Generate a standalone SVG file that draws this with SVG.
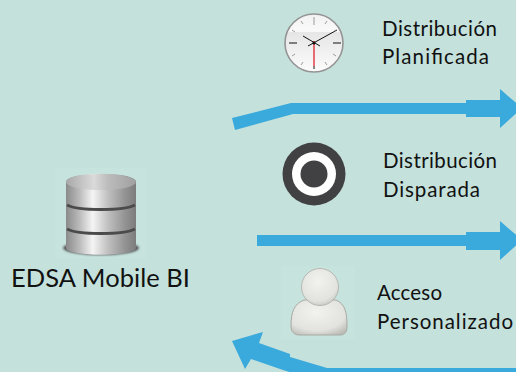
<svg xmlns="http://www.w3.org/2000/svg" width="516" height="372" viewBox="0 0 516 372">
<style>
.t{font-family:"Lato","Open Sans","Liberation Sans",sans-serif;font-size:20.5px;fill:#111}
.a{fill:#3aa9dc}
.k{stroke:#777;stroke-width:.7}
</style>
<defs>
<linearGradient id="cyl" x1="0" x2="1" y1="0" y2="0">
<stop offset="0" stop-color="#8a8a8a"/><stop offset=".2" stop-color="#bdbdbd"/><stop offset=".38" stop-color="#f4f4f4"/><stop offset=".6" stop-color="#c0c0c0"/><stop offset=".85" stop-color="#929292"/><stop offset="1" stop-color="#7c7c7c"/>
</linearGradient>
<linearGradient id="top" x1="0" x2="1" y1="0" y2="0">
<stop offset="0" stop-color="#a8a8a8"/><stop offset=".4" stop-color="#dadada"/><stop offset=".6" stop-color="#bcbcbc"/><stop offset="1" stop-color="#a0a0a0"/>
</linearGradient>
<linearGradient id="face" x1="0" x2="0" y1="0" y2="1">
<stop offset="0" stop-color="#f2f2f2"/><stop offset=".3" stop-color="#fafafa"/><stop offset=".32" stop-color="#e6e6e6"/><stop offset="1" stop-color="#fcfcfc"/>
</linearGradient>
<radialGradient id="usr" cx=".45" cy=".35" r=".75">
<stop offset="0" stop-color="#f2f2ef"/><stop offset=".7" stop-color="#e2e2df"/><stop offset="1" stop-color="#bcbcb6"/>
</radialGradient>
<filter id="soft"><feGaussianBlur stdDeviation="1"/></filter>
<filter id="soft2"><feGaussianBlur stdDeviation=".6"/></filter>
</defs>
<rect width="516" height="372" fill="#c4e1dc"/>
<g id="connectors">
<polygon class="a" points="232,118 291,103 466,103 466,100 500,100 500,89 522,108 500,128 500,117 466,117 466,114 293,114 235,130"/>
<polygon class="a" points="257,235 466,235 466,232 500,232 500,221 522,240 500,260 500,250 466,250 466,246 257,246"/>
<polygon class="a" points="516,368 327,368 290,357 290,354 259,343 263,332 232,341 245,369 251,359 283,370 302,376 516,376"/>
</g>
<g id="db">
<rect x="55" y="168" width="92" height="90" fill="#c7e3de"/>
<ellipse cx="101" cy="248" rx="38" ry="7" fill="#555" filter="url(#soft)"/>
<g filter="url(#soft2)">
<path d="M66,182 C66,171 136,171 136,182 V248 C136,257 66,257 66,248 Z" fill="url(#cyl)"/>
<ellipse cx="101" cy="182" rx="35" ry="8" fill="url(#top)"/>
<path d="M67,205 C78,211 124,211 135,205" fill="none" stroke="#4c4c4c" stroke-width="3"/>
<path d="M67,229 C78,235 124,235 135,229" fill="none" stroke="#4c4c4c" stroke-width="3"/>
</g>
<text x="11" y="287" style="font-family:'Lato','Open Sans','Liberation Sans',sans-serif;font-size:25.5px;fill:#111" textLength="179" lengthAdjust="spacing">EDSA Mobile BI</text>
</g>
<g id="clock">
<circle cx="314" cy="43" r="29" fill="url(#face)" stroke="#949494" stroke-width="1.6"/>
<g stroke="#111" stroke-width="1">
<line x1="289" y1="43" x2="297" y2="43"/><line x1="333" y1="43" x2="341" y2="43"/>
<line x1="303" y1="36" x2="320" y2="46"/><line x1="308" y1="46" x2="337" y2="30"/>
<line x1="314" y1="66" x2="314" y2="69"/>
</g>
<g class="k">
<line x1="314" y1="17" x2="314" y2="25"/><line x1="327" y1="21" x2="325" y2="24"/><line x1="336" y1="30" x2="333" y2="32"/><line x1="336" y1="56" x2="333" y2="54"/><line x1="327" y1="65" x2="325" y2="62"/><line x1="301" y1="65" x2="303" y2="62"/><line x1="292" y1="56" x2="295" y2="54"/><line x1="292" y1="30" x2="295" y2="32"/><line x1="301" y1="21" x2="303" y2="24"/>
</g>
<line x1="314" y1="41" x2="314" y2="66" stroke="#e0101c" stroke-width="1.2"/>
<circle cx="314" cy="43" r="1.6" fill="#111"/>
<text class="t" x="382" y="36" textLength="115" lengthAdjust="spacing">Distribución</text>
<text class="t" x="382" y="64" textLength="107" lengthAdjust="spacing">Planificada</text>
</g>
<g id="target">
<circle cx="314" cy="174" r="31.5" fill="#414042"/>
<circle cx="314" cy="174" r="22" fill="#fff"/>
<circle cx="314" cy="174" r="13.5" fill="#414042"/>
<text class="t" x="383" y="168" textLength="114" lengthAdjust="spacing">Distribución</text>
<text class="t" x="383" y="197" textLength="97" lengthAdjust="spacing">Disparada</text>
</g>
<g id="user">
<rect x="281" y="266" width="74" height="74" fill="#c7e3de"/>
<path d="M304,300 C294,304 291,312 291,326 C291,332 294,335 300,335 H340 C345,335 347,332 347,326 C347,312 345,304 336,300 Z" fill="url(#usr)" stroke="#aaaaa4" stroke-width="1"/>
<circle cx="320" cy="287" r="18.5" fill="url(#usr)" stroke="#b8b8b2" stroke-width="1"/>
<text class="t" x="377" y="300" textLength="65" lengthAdjust="spacing">Acceso</text>
<text class="t" x="377" y="329" textLength="136" lengthAdjust="spacing">Personalizado</text>
</g>
</svg>
